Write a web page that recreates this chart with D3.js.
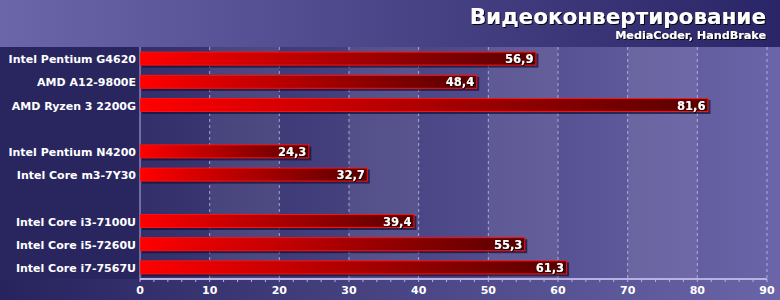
<!DOCTYPE html>
<html>
<head>
<meta charset="utf-8">
<script src="https://d3js.org/d3.v7.min.js"></script>
<style>
body { margin: 0; background: #2a2664; }
svg text { font-family: "DejaVu Sans", Verdana, sans-serif; font-weight: bold; }
</style>
</head>
<body>
<svg id="chart" width="780" height="300"></svg>
<script>
// data
const cpus = ["Intel Pentium G4620", "AMD A12-9800E", "AMD Ryzen 3 2200G", "",
              "Intel Pentium N4200", "Intel Core m3-7Y30", " ",
              "Intel Core i3-7100U", "Intel Core i5-7260U", "Intel Core i7-7567U"]
const scores = [56.9, 48.4, 81.6, null, 24.3, 32.7, null, 39.4, 55.3, 61.3]
const xTicks = [0, 10, 20, 30, 40, 50, 60, 70, 80, 90]
const title = "Видеоконвертирование"
const subtitle = "MediaCoder, HandBrake"

const svg = d3.select("#chart")
const W = 780, H = 300
const plot = {left: 140, right: 767, top: 47, bottom: 279}

const defs = svg.append("defs")

// gradients
function linGrad(id, stops) {
    const g = defs.append("linearGradient").attr("id", id)
        .attr("x1", "0%").attr("x2", "100%").attr("y1", "0%").attr("y2", "0%")
    stops.forEach(s => g.append("stop").attr("offset", s[0]).attr("stop-color", s[1]))
    return g
}
linGrad("topGrad", [["0%", "#6b65aa"], ["100%", "#2a2566"]])
linGrad("bodyGrad", [["0%", "#27235d"], ["100%", "#6a65a8"]])
linGrad("barGrad", [["0%", "#ff0000"], ["100%", "#580000"]])

const shadow = defs.append("filter").attr("id", "txtShadow")
    .attr("x", "-10%").attr("y", "-20%").attr("width", "130%").attr("height", "150%")
shadow.append("feDropShadow").attr("dx", 1).attr("dy", 1).attr("stdDeviation", 0.3)
    .attr("flood-color", "#000").attr("flood-opacity", 0.9)

svg.append("rect").attr("width", W).attr("height", H).attr("fill", "url(#bodyGrad)")
svg.append("rect").attr("width", W).attr("height", plot.top).attr("fill", "url(#topGrad)")
svg.append("rect").attr("y", plot.top).attr("width", plot.left).attr("height", plot.bottom - plot.top)
    .attr("fill", "#29255f")

const x = d3.scaleLinear().domain([0, 90]).range([plot.left, plot.right])
const y = d3.scaleBand().domain(cpus).range([plot.top, plot.bottom])

// alternating lighter bands
svg.append("g").selectAll("rect")
    .data(xTicks.slice(0, -1).filter((d, i) => i % 2 == 1))
    .join("rect")
    .attr("x", d => x(d)).attr("y", plot.top)
    .attr("width", d => x(d + 10) - x(d)).attr("height", plot.bottom - plot.top)
    .attr("fill", "#ffffff").attr("opacity", 0.08)

// grid lines
svg.append("g").selectAll("line")
    .data(xTicks.slice(1))
    .join("line")
    .attr("x1", d => x(d)).attr("x2", d => x(d))
    .attr("y1", plot.top).attr("y2", plot.bottom)
    .attr("stroke", "#c8c4ec").attr("stroke-width", 1)
    .attr("stroke-dasharray", "3,3").attr("opacity", 0.75)

svg.append("line")
    .attr("x1", x(0)).attr("x2", x(0)).attr("y1", plot.top).attr("y2", plot.bottom)
    .attr("stroke", "#b4aee0")

// bars
const rows = cpus.map((c, i) => ({cpu: c, v: scores[i]})).filter(d => d.v != null)
const bh = 14
const bars = svg.append("g")

bars.selectAll(".shadow").data(rows).join("rect")
    .attr("class", "shadow")
    .attr("x", x(0) + 2).attr("y", d => y(d.cpu) + y.bandwidth() / 2 - bh / 2 + 2)
    .attr("width", d => x(d.v) - x(0)).attr("height", bh)
    .attr("fill", "#120f35").attr("opacity", 0.7)

bars.selectAll(".bar").data(rows).join("rect")
    .attr("class", "bar")
    .attr("x", x(0) + 0.5).attr("y", d => y(d.cpu) + y.bandwidth() / 2 - bh / 2 + 0.5)
    .attr("width", d => x(d.v) - x(0) - 1).attr("height", bh - 1)
    .attr("fill", "url(#barGrad)")
    .attr("stroke", "#ff1010").attr("stroke-width", 1)

bars.selectAll(".val").data(rows).join("text")
    .attr("class", "val")
    .attr("x", d => x(d.v) - 3).attr("y", d => y(d.cpu) + y.bandwidth() / 2 + 4.5)
    .attr("text-anchor", "end").attr("fill", "#fff").attr("font-size", 11.5)
    .attr("filter", "url(#txtShadow)")
    .text(d => d3.format(".1f")(d.v).replace(".", ","))

// category labels
svg.append("g").selectAll("text").data(rows).join("text")
    .attr("x", plot.left - 4).attr("y", d => y(d.cpu) + y.bandwidth() / 2 + 4.5)
    .attr("text-anchor", "end").attr("fill", "#fff").attr("font-size", 11)
    .text(d => d.cpu)

// x axis
const axis = svg.append("g").attr("transform", `translate(0,${plot.bottom})`)
axis.append("line").attr("x1", x(0)).attr("x2", x(90)).attr("stroke", "#b8b2e4").attr("stroke-width", 2)
axis.selectAll(".minor").data(d3.range(0, 91, 2)).join("line")
    .attr("x1", d => x(d)).attr("x2", d => x(d)).attr("y1", 0).attr("y2", 3)
    .attr("stroke", "#b8b2e4")
axis.selectAll("text").data(xTicks).join("text")
    .attr("x", d => x(d)).attr("y", 14.5)
    .attr("text-anchor", "middle").attr("fill", "#fff").attr("font-size", 11)
    .text(d => d)

// titles
svg.append("text").attr("x", 766).attr("y", 24).attr("text-anchor", "end")
    .attr("fill", "#fff").attr("font-size", 21.5).attr("filter", "url(#txtShadow)").text(title)
svg.append("text").attr("x", 766).attr("y", 39).attr("text-anchor", "end")
    .attr("fill", "#fff").attr("font-size", 11.2).attr("filter", "url(#txtShadow)").text(subtitle)
</script>
</body>
</html>
